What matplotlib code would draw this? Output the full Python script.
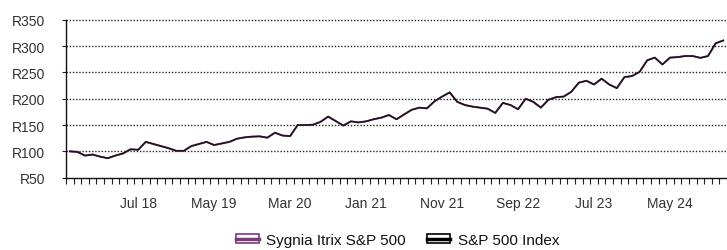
import pandas as pd
import matplotlib

matplotlib.use("Agg")
import matplotlib.pyplot as plt
from matplotlib.lines import Line2D
from matplotlib.patches import Patch

# monthly values of R100 invested, Oct 2017 .. Dec 2024
sp500 = [100, 99, 92, 94, 90, 87, 92, 96, 104, 103, 118, 114, 110, 106, 101, 101,
         110, 114, 118, 112, 115, 118,
         124, 126.6, 128, 128.5, 126, 135.4, 130, 129, 150, 150, 150.6, 156, 166,
         157.6, 149, 157, 155, 157, 161, 164, 169,
         161, 170, 179, 183, 181.6, 195, 204, 212, 194, 188, 185, 183, 181, 173,
         192, 188, 180, 200, 194, 183, 198, 203,
         204, 213, 230.5, 234, 227, 238, 227, 220, 241, 243, 251, 273, 278, 265,
         278, 279, 281, 281, 277.5, 281, 305, 310.5]
sygnia = list(sp500)  # tracks the index, lines sit on top of each other

months = pd.date_range("2017-10-01", periods=len(sp500), freq="MS")
label_idx = list(range(9, len(months), 10))
labels = [months[i].strftime("%b %y") for i in label_idx]

y_ticks = [50, 100, 150, 200, 250, 300, 350]
y_labels = ["R%d" % v for v in y_ticks]

purple = "#7a3a7c"
text_col = "#333333"

plt.rcParams["font.family"] = ["Liberation Sans", "DejaVu Sans"]

fig = plt.figure(figsize=(7.27, 2.51), dpi=100)
ax = fig.add_axes([66 / 727, 72.3 / 251, 1 - 66 / 727, 158 / 251])

x = list(range(len(sp500)))
ax.plot(x, sygnia, color=purple, lw=1.4, zorder=3)
ax.plot(x, sp500, color="#1c1418", lw=1.1, zorder=4)

ax.set_xlim(-0.5, 86.35)
ax.set_ylim(50, 350)

for v in y_ticks[1:]:
    ax.axhline(v, color="#222222", lw=1.0, ls=(0, (1, 1.3)), zorder=1, clip_on=False)

ax.set_yticks(y_ticks)
ax.set_yticklabels(y_labels)
ax.tick_params(axis="y", length=3, width=0.8, color="#222222", pad=12,
               labelsize=10, labelcolor=text_col)

ax.set_xticks(label_idx)
ax.set_xticklabels(labels)
ax.set_xticks([i - 0.5 for i in range(len(sp500) + 1)], minor=True)
ax.tick_params(axis="x", which="major", length=0, pad=13, labelsize=10,
               labelcolor=text_col)
ax.tick_params(axis="x", which="minor", length=4, width=0.8, color="#222222")

for s in ["top", "right"]:
    ax.spines[s].set_visible(False)
ax.spines["left"].set_color("#111111")
ax.spines["bottom"].set_color("#111111")
ax.spines["left"].set_linewidth(1.0)
ax.spines["bottom"].set_linewidth(1.0)

handles = [
    (Patch(facecolor="white", edgecolor=purple, lw=1.2), Line2D([], [], color=purple, lw=2.5)),
    (Patch(facecolor="white", edgecolor="black", lw=1.2), Line2D([], [], color="black", lw=2.5)),
]
fig.legend(handles, ["Sygnia Itrix S&P 500", "S&P 500 Index"], loc="center",
           bbox_to_anchor=(0.547, 0.04), ncol=2, frameon=False, fontsize=11,
           handlelength=1.5, handleheight=0.6, handletextpad=0.5, columnspacing=1.4,
           labelcolor="#111111")

fig.savefig("out.png", dpi=100)
